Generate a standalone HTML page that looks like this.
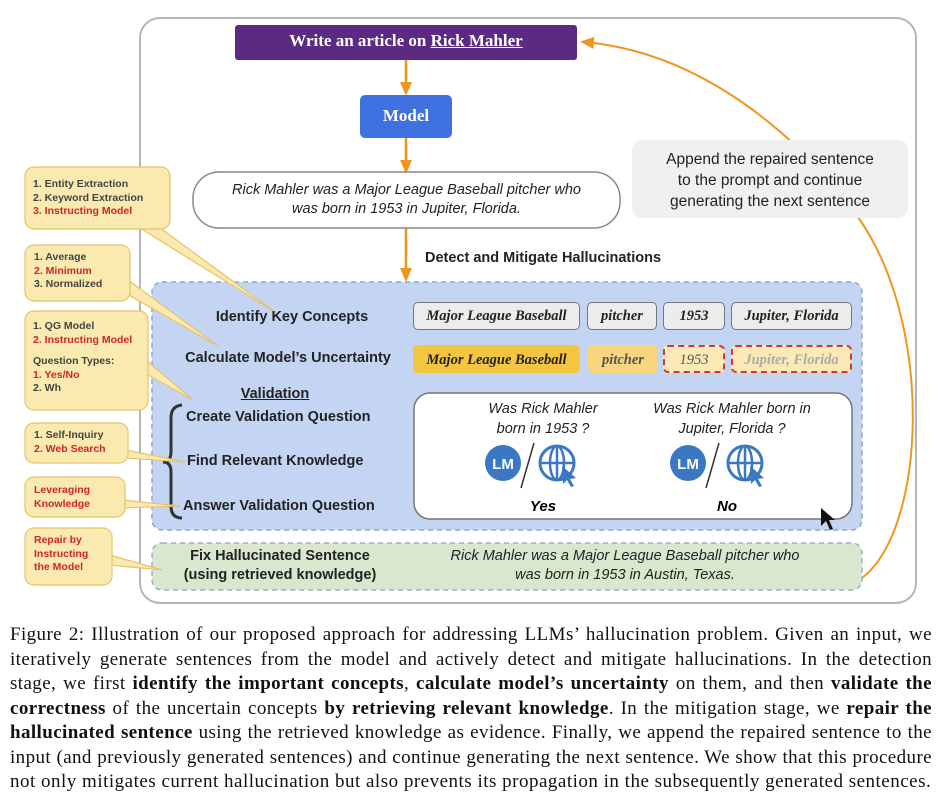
<!DOCTYPE html>
<html><head><meta charset="utf-8">
<style>
body{margin:0;width:941px;height:809px;background:#fff;position:relative;overflow:hidden;font-family:"Liberation Sans",Arial,sans-serif}
.a{position:absolute}
.c{position:absolute;text-align:center;white-space:nowrap}
.lbl{font-weight:bold;font-size:14.5px;color:#222}
.call{font-size:10.5px;font-weight:bold;color:#444;line-height:13.5px}
.r{color:#d0242a}
.chip{position:absolute;font-family:"Liberation Serif",serif;font-style:italic;font-weight:bold;font-size:14.5px;text-align:center;box-sizing:border-box;border-radius:5px;color:#222}
.cap{position:absolute;left:10px;width:922px;font-family:"Liberation Serif",serif;font-size:19px;line-height:24.5px;color:#111;letter-spacing:0.4px}
.cap div{text-align:justify;text-align-last:justify;white-space:nowrap;height:24.5px}
.cap div.l{text-align-last:left;letter-spacing:0.5px}
</style></head><body>
<svg class="a" style="left:0;top:0" width="941" height="610">
<defs><marker id="ar2" markerWidth="14" markerHeight="12" refX="10" refY="6" orient="auto" markerUnits="userSpaceOnUse"><path d="M0,0 L14,6 L0,12 z" fill="#f0961e"/></marker></defs>
<rect x="140" y="18" width="776" height="585" rx="20" fill="#fff" stroke="#b5b5b5" stroke-width="2"/>
<line x1="406" y1="60" x2="406" y2="92" stroke="#f0961e" stroke-width="2.5" marker-end="url(#ar2)"/>
<line x1="406" y1="138" x2="406" y2="170" stroke="#f0961e" stroke-width="2.5" marker-end="url(#ar2)"/>
<line x1="406" y1="228" x2="406" y2="278" stroke="#f0961e" stroke-width="2.5" marker-end="url(#ar2)"/>
<path d="M862 578 C 925 530, 935 330, 860 220 C 800 135, 700 52, 584 42" fill="none" stroke="#f0961e" stroke-width="2" marker-end="url(#ar2)"/>
<rect x="632" y="140" width="276" height="78" rx="10" fill="#f0f0f0"/>
<rect x="193" y="172" width="427" height="56" rx="26" fill="#fff" stroke="#888" stroke-width="1.5"/>
<rect x="152" y="282" width="710" height="248" rx="10" fill="#c4d5f4" stroke="#8ea6cf" stroke-width="1.5" stroke-dasharray="5,4"/>
<rect x="152" y="543" width="710" height="47" rx="10" fill="#dae7cf" stroke="#9ab0c4" stroke-width="1.5" stroke-dasharray="5,4"/>
<rect x="414" y="393" width="438" height="126" rx="16" fill="#fff" stroke="#777" stroke-width="1.5"/>
<rect x="235" y="25" width="342" height="35" rx="3" fill="#5a2b80"/>
<rect x="360" y="95" width="92" height="43" rx="5" fill="#3f72e0"/>
<path d="M182 405 Q171 406 171 418 L171 452 Q171 462 163 462 Q171 462 171 472 L171 506 Q171 518 182 518" fill="none" stroke="#333" stroke-width="3"/>
<g fill="#fbeab0" stroke="#e3c46a" stroke-width="1.2">
<path d="M140 228 L275 312 L160 228 z"/>
<path d="M120 290 L218 346 L128 280 z"/>
<path d="M140 355 L193 400 L148 375 z"/>
<path d="M126 450 L185 462 L126 458 z"/>
<path d="M122 500 L180 506 L122 508 z"/>
<path d="M110 555 L162 570 L110 565 z"/>
<rect x="25" y="167" width="145" height="62" rx="9"/>
<rect x="25" y="245" width="105" height="56" rx="9"/>
<rect x="25" y="311" width="123" height="99" rx="9"/>
<rect x="25" y="423" width="103" height="40" rx="9"/>
<rect x="25" y="477" width="100" height="40" rx="9"/>
<rect x="25" y="528" width="87" height="57" rx="9"/>
</g>
<g>
<circle cx="503" cy="463" r="18" fill="#3a78c4"/><text x="503" y="469" text-anchor="middle" font-family="Liberation Sans" font-weight="bold" font-size="15" fill="#fff">LM</text>
<line x1="534" y1="443" x2="521" y2="488" stroke="#333" stroke-width="1.5"/>
<circle cx="557" cy="463" r="17" fill="none" stroke="#3a78c4" stroke-width="3"/>
<ellipse cx="557" cy="463" rx="7" ry="17" fill="none" stroke="#3a78c4" stroke-width="2.5"/>
<line x1="540" y1="463" x2="574" y2="463" stroke="#3a78c4" stroke-width="2.5"/><line x1="557" y1="446" x2="557" y2="480" stroke="#3a78c4" stroke-width="2.5"/>
<path d="M562 466 L576 478 L570 479 L574 486 L571 487 L567 480 L563 484 z" fill="#3a78c4"/>
<circle cx="688" cy="463" r="18" fill="#3a78c4"/><text x="688" y="469" text-anchor="middle" font-family="Liberation Sans" font-weight="bold" font-size="15" fill="#fff">LM</text>
<line x1="719" y1="443" x2="706" y2="488" stroke="#333" stroke-width="1.5"/>
<circle cx="745" cy="463" r="17" fill="none" stroke="#3a78c4" stroke-width="3"/>
<ellipse cx="745" cy="463" rx="7" ry="17" fill="none" stroke="#3a78c4" stroke-width="2.5"/>
<line x1="728" y1="463" x2="762" y2="463" stroke="#3a78c4" stroke-width="2.5"/><line x1="745" y1="446" x2="745" y2="480" stroke="#3a78c4" stroke-width="2.5"/>
<path d="M750 466 L764 478 L758 479 L762 486 L759 487 L755 480 L751 484 z" fill="#3a78c4"/>
<path d="M821 508 L821 526 L826 521 L830 530 L833 529 L829 520 L835 520 z" fill="#111"/>
</g>
</svg>

<div class="c" style="left:235px;top:31px;width:342px;color:#fff;font-family:'Liberation Serif',serif;font-size:17px;font-weight:bold">Write an article on <u>Rick Mahler</u></div>
<div class="c" style="left:360px;top:106px;width:92px;color:#fff;font-family:'Liberation Serif',serif;font-size:17px;font-weight:bold">Model</div>
<div class="c" style="left:193px;top:181px;width:427px;font-style:italic;font-size:14.5px;line-height:19px;color:#222">Rick Mahler was a Major League Baseball pitcher who<br>was born in 1953 in Jupiter, Florida.</div>
<div class="c" style="left:632px;top:149px;width:276px;font-size:15.5px;line-height:21px;color:#222">Append the repaired sentence<br>to the prompt and continue<br>generating the next sentence</div>
<div class="a lbl" style="left:425px;top:250px">Detect and Mitigate Hallucinations</div>

<div class="c lbl" style="left:182px;top:309px;width:220px">Identify Key Concepts</div>
<div class="c lbl" style="left:168px;top:350px;width:240px">Calculate Model’s Uncertainty</div>
<div class="c lbl" style="left:215px;top:386px;width:120px;text-decoration:underline">Validation</div>
<div class="a lbl" style="left:186px;top:409px">Create Validation Question</div>
<div class="a lbl" style="left:187px;top:453px">Find Relevant Knowledge</div>
<div class="a lbl" style="left:183px;top:498px">Answer Validation Question</div>
<div class="c lbl" style="left:155px;top:547px;width:250px;line-height:19px">Fix Hallucinated Sentence<br>(using retrieved knowledge)</div>
<div class="c" style="left:405px;top:547px;width:440px;font-style:italic;font-size:14.5px;line-height:19px;color:#222">Rick Mahler was a Major League Baseball pitcher who<br>was born in 1953 in Austin, Texas.</div>

<div class="chip" style="left:413px;top:302px;width:167px;height:28px;line-height:27px;background:#ececec;border:1.5px solid #777">Major League Baseball</div>
<div class="chip" style="left:587px;top:302px;width:70px;height:28px;line-height:27px;background:#ececec;border:1.5px solid #777">pitcher</div>
<div class="chip" style="left:663px;top:302px;width:62px;height:28px;line-height:27px;background:#ececec;border:1.5px solid #777">1953</div>
<div class="chip" style="left:731px;top:302px;width:121px;height:28px;line-height:27px;background:#ececec;border:1.5px solid #777">Jupiter, Florida</div>
<div class="chip" style="left:413px;top:345px;width:167px;height:28px;line-height:30px;background:#f4c53f">Major League Baseball</div>
<div class="chip" style="left:588px;top:345px;width:70px;height:28px;line-height:30px;background:#f8d680;color:#555">pitcher</div>
<div class="chip" style="left:663px;top:345px;width:62px;height:28px;background:#fbeab8;border:2.5px dashed #d2353a;color:#555;font-weight:normal;line-height:26px">1953</div>
<div class="chip" style="left:731px;top:345px;width:121px;height:28px;background:#fbeab8;border:2.5px dashed #d2353a;color:#aaa;line-height:26px">Jupiter, Florida</div>

<div class="c" style="left:463px;top:399px;width:160px;font-style:italic;font-size:14.5px;line-height:20px;color:#222">Was Rick Mahler<br>born in 1953 ?</div>
<div class="c" style="left:632px;top:399px;width:200px;font-style:italic;font-size:14.5px;line-height:20px;color:#222">Was Rick Mahler born in<br>Jupiter, Florida ?</div>
<div class="c" style="left:513px;top:498px;width:60px;font-style:italic;font-weight:bold;font-size:15px">Yes</div>
<div class="c" style="left:697px;top:498px;width:60px;font-style:italic;font-weight:bold;font-size:15px">No</div>

<div class="a call" style="left:33px;top:178px">1. Entity Extraction<br>2. Keyword Extraction<br><span class="r">3. Instructing Model</span></div>
<div class="a call" style="left:34px;top:251px">1. Average<br><span class="r">2. Minimum</span><br>3. Normalized</div>
<div class="a call" style="left:33px;top:320px">1. QG Model<br><span class="r">2. Instructing Model</span><br><span style="display:block;height:8px"></span>Question Types:<br><span class="r">1. Yes/No</span><br>2. Wh</div>
<div class="a call" style="left:34px;top:429px">1. Self-Inquiry<br><span class="r">2. Web Search</span></div>
<div class="a call r" style="left:34px;top:484px">Leveraging<br>Knowledge</div>
<div class="a call r" style="left:34px;top:534px">Repair by<br>Instructing<br>the Model</div>

<div class="cap" style="top:623px">
<div>Figure 2: Illustration of our proposed approach for addressing LLMs’ hallucination problem. Given an input, we</div>
<div>iteratively generate sentences from the model and actively detect and mitigate hallucinations. In the detection</div>
<div>stage, we first <b>identify the important concepts</b>, <b>calculate model’s uncertainty</b> on them, and then <b>validate the</b></div>
<div><b>correctness</b> of the uncertain concepts <b>by retrieving relevant knowledge</b>. In the mitigation stage, we <b>repair the</b></div>
<div><b>hallucinated sentence</b> using the retrieved knowledge as evidence. Finally, we append the repaired sentence to the</div>
<div>input (and previously generated sentences) and continue generating the next sentence. We show that this procedure</div>
<div class="l">not only mitigates current hallucination but also prevents its propagation in the subsequently generated sentences.</div>
</div>
</body></html>
